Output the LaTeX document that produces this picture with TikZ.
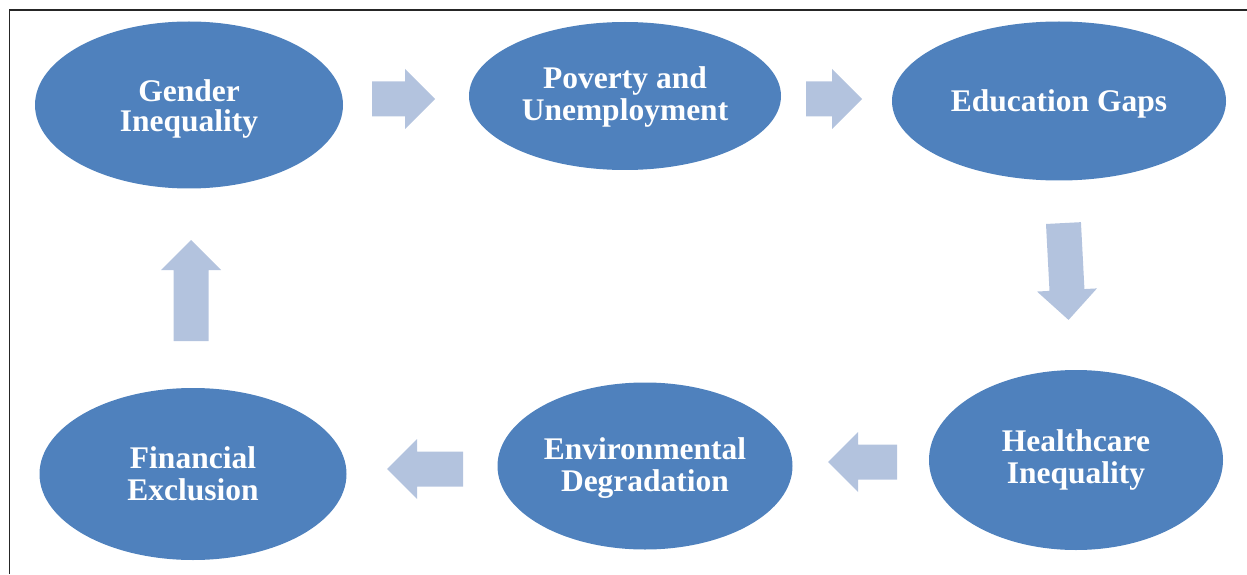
\documentclass[tikz,border=0pt]{standalone}
\usepackage{fontspec}
\setmainfont{Liberation Serif}
\usetikzlibrary{shapes.geometric}
\definecolor{ellblue}{HTML}{4F81BD}
\definecolor{arrblue}{HTML}{B3C3DE}
\begin{document}
\begin{tikzpicture}[x=1pt,y=1pt,
  bubble/.style={ellipse, fill=ellblue, draw=none, inner sep=0pt},
  txt/.style={text=white, inner sep=0pt,
    font=\fontsize{31.5}{32}\selectfont\bfseries, align=center},
  pics/barrow/.style={code={
    \fill[arrblue] (-#1/2,-17.5) -- (#1/2-30,-17.5) -- (#1/2-30,-30) -- (#1/2,0)
      -- (#1/2-30,30) -- (#1/2-30,17.5) -- (-#1/2,17.5) -- cycle;}}]
\useasboundingbox (0,0) rectangle (1247,574);
\draw[line width=1.5pt, black!85] (1247,564) -- (9.5,564) -- (9.5,0);

\node[bubble, minimum width=308, minimum height=167] (gender) at (189,469) {};
\node[bubble, minimum width=312, minimum height=148] (poverty) at (625,478) {};
\node[bubble, minimum width=334, minimum height=159] (edu) at (1059,473) {};
\node[bubble, minimum width=294, minimum height=180] (health) at (1076,114) {};
\node[bubble, minimum width=295, minimum height=167] (env) at (645,108) {};
\node[bubble, minimum width=307, minimum height=172] (fin) at (193,100) {};

\node[txt, font=\fontsize{31.5}{30}\selectfont\bfseries] (tgender) at ([yshift=-4]gender.center) {Gender\\Inequality};
\node[txt] (tpoverty) at ([yshift=-1]poverty.center) {Poverty and\\Unemployment};
\node[txt] (tedu) at ([yshift=-3]edu.center) {Education Gaps};
\node[txt] (thealth) at (health.center) {Healthcare\\Inequality};
\node[txt] (tenv) at ([yshift=-2]env.center) {Environmental\\Degradation};
\node[txt] (tfin) at (fin.center) {Financial\\Exclusion};

\pic[rotate=0] (a1) at (403.5,475) {barrow=63};
\pic[rotate=0] (a2) at (834,475) {barrow=56};
\pic[rotate=-87] (a3) at (1066,302.5) {barrow=97};
\pic[rotate=180] (a4) at (862.5,112) {barrow=69};
\pic[rotate=180] (a5) at (425,105) {barrow=76};
\pic[rotate=90] (a6) at (191,283.5) {barrow=101};
\end{tikzpicture}
\end{document}
